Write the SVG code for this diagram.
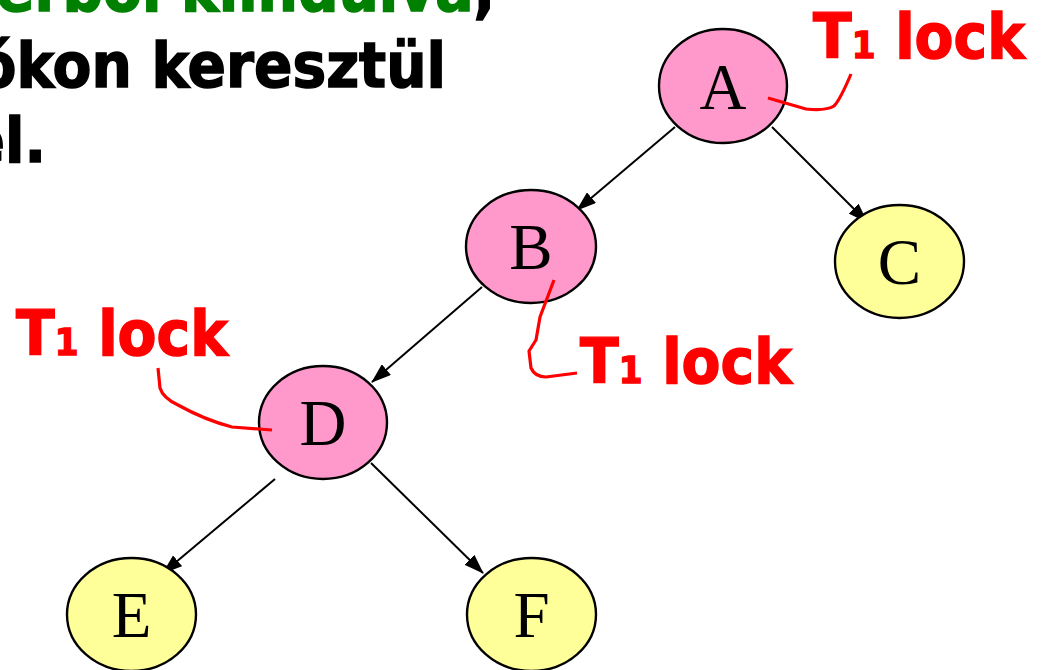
<svg xmlns="http://www.w3.org/2000/svg" width="1041" height="670" viewBox="0 0 1041 670">
<defs>
<style>
.heading{font-family:'DejaVu Sans Condensed','DejaVu Sans',sans-serif;font-stretch:condensed;font-weight:bold;font-size:63px;fill:#000;stroke:#000;stroke-width:1.4}
.green{fill:#008000;stroke:#008000}
.lock{font-family:'DejaVu Sans Condensed','DejaVu Sans',sans-serif;font-stretch:condensed;font-weight:bold;font-size:63px;fill:#FF0000;stroke:#FF0000;stroke-width:1.4}
.sub{font-size:38px}
.pink{fill:#FF99CC;stroke:#000;stroke-width:2.4}
.yellow{fill:#FFFF99;stroke:#000;stroke-width:2.4}
.lbl{font-family:'Liberation Serif','Times New Roman',serif;font-size:65px;fill:#000;text-anchor:middle}
.edge{stroke:#000;stroke-width:2;fill:none;marker-end:url(#arrow)}
.redline{stroke:#FF0000;stroke-width:3.2;fill:none;stroke-linejoin:round;stroke-linecap:butt}
</style>
<marker id="arrow" markerUnits="userSpaceOnUse" viewBox="0 0 20 14" markerWidth="20" markerHeight="14" refX="19" refY="7" orient="auto">
<path d="M0,0 L20,7 L0,14 z" fill="#000"/>
</marker>
</defs>
<rect width="1041" height="670" fill="#fff"/>
<g id="heading">
<text class="heading" x="495" y="11" text-anchor="end"><tspan class="green">erből kiindulva</tspan>,</text>
<text class="heading" x="446" y="87" text-anchor="end">ókon keresztül</text>
<text class="heading" x="46" y="162" text-anchor="end">el.</text>
</g>
<g id="connectors">
<line class="edge" x1="675" y1="127" x2="577" y2="210"/>
<line class="edge" x1="772" y1="127" x2="867" y2="222"/>
<line class="edge" x1="482" y1="287" x2="372" y2="382"/>
<line class="edge" x1="275" y1="479" x2="163" y2="573"/>
<line class="edge" x1="371" y1="463" x2="483" y2="573"/>
</g>
<g id="node-A"><ellipse class="pink" cx="723" cy="86" rx="64" ry="57"/><text class="lbl" x="723" y="109">A</text></g>
<g id="node-B"><ellipse class="pink" cx="531" cy="246.5" rx="65" ry="56.5"/><text class="lbl" x="531" y="269">B</text></g>
<g id="node-C"><ellipse class="yellow" cx="899.5" cy="261.5" rx="64.5" ry="56.5"/><text class="lbl" x="899.5" y="284">C</text></g>
<g id="node-D"><ellipse class="pink" cx="323" cy="422.5" rx="64" ry="56.5"/><text class="lbl" x="323" y="445">D</text></g>
<g id="node-E"><ellipse class="yellow" cx="131.5" cy="614.5" rx="64.5" ry="56.5"/><text class="lbl" x="131.5" y="637">E</text></g>
<g id="node-F"><ellipse class="yellow" cx="531.5" cy="614.5" rx="64.5" ry="56.5"/><text class="lbl" x="531.5" y="637">F</text></g>
<g id="lock-A">
<path class="redline" d="M768,98 L806,109 Q826,111 834,106 Q840,100 851,74"/>
<text class="lock" x="813" y="58">T<tspan class="sub">1</tspan> lock</text>
</g>
<g id="lock-B">
<path class="redline" d="M554,280 L540,317 L536,340 L529,351 L531,368 Q535,377 546,377 L577,373"/>
<text class="lock" x="580" y="383">T<tspan class="sub">1</tspan> lock</text>
</g>
<g id="lock-D">
<path class="redline" d="M158,368 L160,388 Q163,398 178,405 Q205,420 232,427 L272,430"/>
<text class="lock" x="16" y="355">T<tspan class="sub">1</tspan> lock</text>
</g>
</svg>
